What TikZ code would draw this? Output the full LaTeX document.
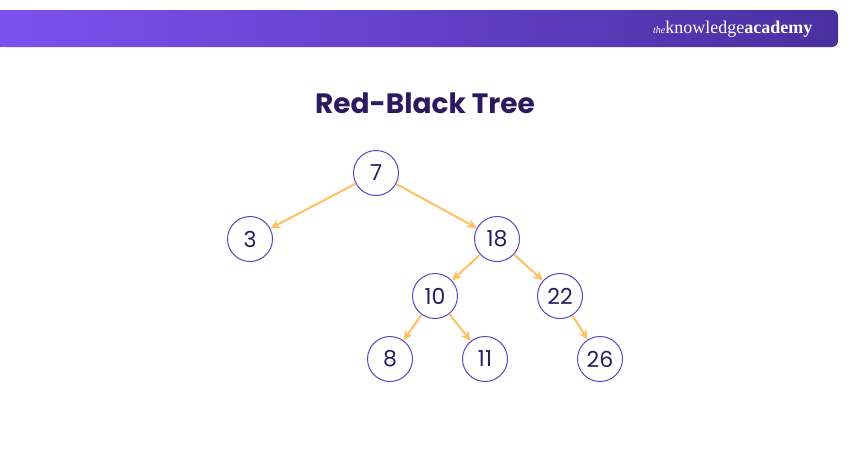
\documentclass[tikz,border=0pt]{standalone}
\usepackage{fontspec}
\setmainfont{Poppins}
\newfontfamily\logofont{Liberation Serif}
\usetikzlibrary{arrows.meta}
\definecolor{navy}{HTML}{2A1B5E}
\definecolor{ring}{HTML}{5B45C0}
\definecolor{edgeamber}{HTML}{FFC062}
\definecolor{bandleft}{HTML}{7B52F0}
\definecolor{bandright}{HTML}{4A2FA0}
\begin{document}
\begin{tikzpicture}[x=1pt,y=-1pt,thick,
    key node/.style={circle,draw=ring,line width=1pt,minimum size=45pt,inner sep=0pt,text=navy,font=\fontsize{22}{24}\selectfont},
    link/.style={draw=edgeamber,line width=2pt,-{Stealth[length=10pt,width=9pt]}}]
    \useasboundingbox (0,0) rectangle (850,450);
    \shade[left color=bandleft,right color=bandright,rounded corners=6pt]
        (0,10) -- (838,10) -- (838,47) -- (0,47) -- cycle;
    \fill[bandleft] (0,10) rectangle (8,47);
    \node[text=white,anchor=east] (logo) at (816,29)
        {\logofont\fontsize{10}{11}\selectfont\itshape the\fontsize{18}{19}\selectfont\upshape knowledge\bfseries academy};
    \node[text=navy,font=\bfseries\fontsize{28}{32}\selectfont] (title) at (425,103) {Red-Black Tree};

    \node[key node] (7) at (376,173) {7};
    \node[key node] (3) at (250,239) {3};
    \node[key node] (18) at (497,239) {18};
    \node[key node] (10) at (435,296) {10};
    \node[key node] (22) at (560,296) {22};
    \node[key node] (8) at (390,359) {8};
    \node[key node] (11) at (485,359) {11};
    \node[key node] (26) at (600,359) {26};

    \path[link]
        (7) edge (3)
        (7) edge (18)
        (18) edge (10)
        (18) edge (22)
        (10) edge (8)
        (10) edge (11)
        (22) edge (26)
        ;
\end{tikzpicture}
\end{document}
